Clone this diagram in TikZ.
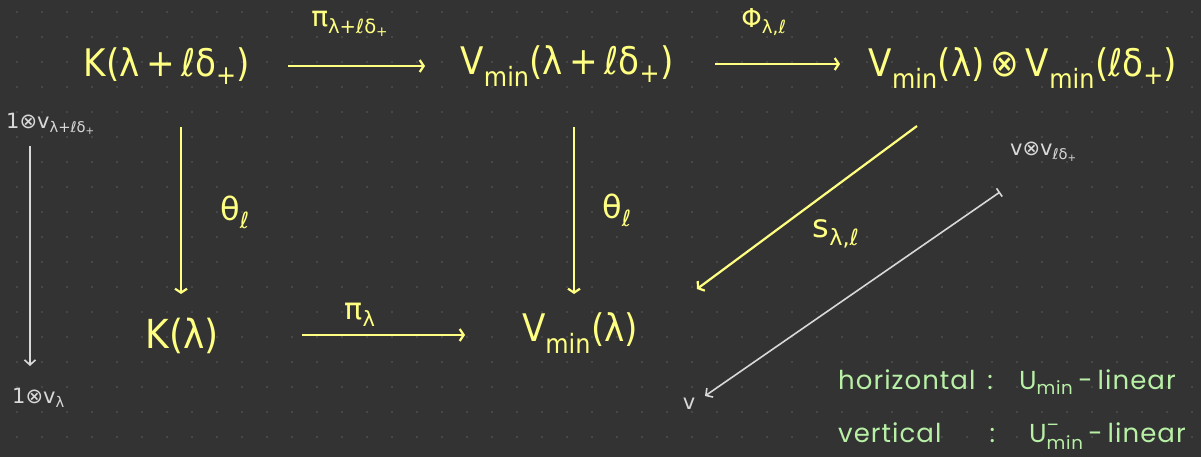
\documentclass[tikz,border=0pt]{standalone}
\usepackage{amsmath}
\usepackage{fontspec}
\newfontfamily\notefont[LetterSpace=4]{Poppins}
\newfontfamily\hw{DejaVu Sans Condensed}
\newfontfamily\hwg{DejaVu Sans}
\usetikzlibrary{arrows.meta,calc}
\definecolor{bgc}{HTML}{333333}
\definecolor{dotc}{HTML}{5C5C5C}
\definecolor{yel}{HTML}{FFFF82}
\definecolor{grn}{HTML}{B8F0A6}
\definecolor{gry}{HTML}{D8D8D8}
\newcommand\sbs[1]{\textsubscript{#1}}
\tikzset{
  obj/.style={text=yel, inner sep=0pt, font=\fontsize{38}{44}\hw},
  lbl/.style={text=yel, inner sep=0pt, font=\fontsize{28}{32}\hwg},
  gl/.style={text=gry, inner sep=0pt, font=\fontsize{21}{25}\hwg},
  note/.style={text=grn, inner sep=0pt, anchor=west, font=\fontsize{26}{30}\notefont},
  ymap/.style={draw=yel, line width=2.2pt, -{Straight Barb[length=4pt,width=12pt,line width=2.2pt]}},
  gmap/.style={draw=gry, line width=1.6pt, -{Straight Barb[length=5pt,width=11pt,line width=1.6pt]}},
}
\begin{document}
\begin{tikzpicture}[x=1pt,y=-1pt]
\fill[bgc] (0,0) rectangle (1201,457);
\useasboundingbox (0,0) rectangle (1201,457);
\foreach \i in {0,...,47} {\foreach \j in {0,...,18} {
  \fill[dotc] ({17+25*\i},{12+25*\j}) circle (0.8);
}}
% main objects
\node[obj] (kl) at (167,66) {K(λ\,+\,ℓδ\sbs{+})};
\node[obj] (vl) at (567,66) {V\sbs{min}(λ\,+\,ℓδ\sbs{+})};
\node[obj] (t) at (1023,68) {V\sbs{min}(λ)\,⊗\,V\sbs{min}(ℓδ\sbs{+})};
\node[obj, font=\fontsize{40}{46}\hw] (k) at (182,336) {K(λ)};
\node[obj] (v) at (580,333) {V\sbs{min}(λ)};
% arrow labels
\node[lbl] (pl) at (350,24) {π\sbs{λ+ℓδ\sbs{+}}};
\node[lbl, font=\fontsize{26}{30}\hwg] (ph) at (764,22) {Φ\sbs{λ,ℓ}};
\node[lbl, font=\fontsize{32}{36}\hwg] (th1) at (235,212) {θ\sbs{ℓ}};
\node[lbl, font=\fontsize{32}{36}\hwg] (th2) at (617,210) {θ\sbs{ℓ}};
\node[lbl, font=\fontsize{32}{36}\hwg] (sl) at (836,234) {s\sbs{λ,ℓ}};
\node[lbl, font=\fontsize{30}{34}\hwg] (pk) at (360,315) {π\sbs{λ}};
% arrows
\draw[ymap] ($(kl)+(121,0)$) -- ($(vl)+(-142,0)$);
\draw[ymap] ($(vl)+(148,-2)$) -- ($(t)+(-183,-4)$);
\draw[ymap] ($(kl)+(14,61)$) -- ($(k)+(-1,-42)$);
\draw[ymap] ($(vl)+(7,61)$) -- ($(v)+(-6,-39)$);
\draw[ymap] ($(t)+(-106,58)$) -- ($(v)+(117,-44)$);
\draw[ymap] ($(k)+(120,-1)$) -- ($(v)+(-115,2)$);
% grey annotations
\node[gl, anchor=west] (g1) at (6,124) {1⊗v\sbs{λ+ℓδ\sbs{+}}};
\node[gl, anchor=west] (g2) at (12,398) {1⊗v\sbs{λ}};
\draw[gmap] ($(g1.west)+(24,22)$) -- ($(g2.west)+(18,-32)$);
\node[gl, anchor=west] (g3) at (1010,152) {v⊗v\sbs{ℓδ\sbs{+}}};
\node[gl] (g4) at (689,404) {v};
\draw[gmap, {Bar[width=10pt,line width=1.6pt]}-{Straight Barb[length=5pt,width=11pt,line width=1.6pt]}] ($(g3.west)+(-10,40)$) -- ($(g4)+(16,-8)$);
% notes
\node[note] (n1) at (838,382) {horizontal\hspace{12pt}:\hspace{26pt}U\sbs{min}\hspace{5pt}-\hspace{5pt}linear};
\node[note] (n2) at (838,436) {vertical\hspace{48pt}:\hspace{34pt}$\text{U}^{\text{–}}_{\text{min}}$\hspace{5pt}-\hspace{5pt}linear};
\end{tikzpicture}
\end{document}
